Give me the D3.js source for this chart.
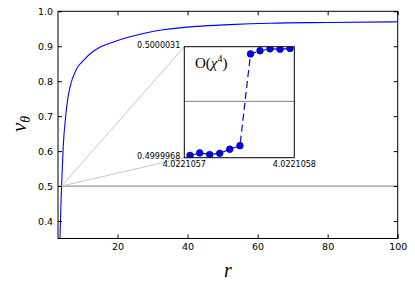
<!DOCTYPE html>
<html>
<head>
<meta charset="utf-8">
<script src="https://cdn.jsdelivr.net/npm/d3@7"></script>
<style>
  body { margin: 0; background: #fff; }
  svg text { font-family: "DejaVu Sans", sans-serif; }
</style>
</head>
<body>
<div id="chart"></div>
<script>
// main curve nu_theta(r)
var rValues = [3.57, 3.75, 4.02, 4.5, 5.2, 5.8, 6.6, 8.3, 10.5, 13.0, 15.5, 19.0, 23.6, 28.0, 33.1, 42.6, 52.0, 63.5, 80.0, 100];
var nuValues = [0.35, 0.42, 0.50, 0.615, 0.70, 0.75, 0.79, 0.835, 0.862, 0.885, 0.90, 0.913, 0.927, 0.938, 0.947, 0.957, 0.962, 0.966, 0.968, 0.970];

var xTicks = [20, 40, 60, 80, 100];
var yTicks = [0.4, 0.5, 0.6, 0.7, 0.8, 0.9, 1.0];

// zoomed inset around the jump
var insetR = [4.0221057052, 4.0221057140, 4.0221057231, 4.0221057322, 4.0221057413, 4.0221057506,
              4.0221057602, 4.0221057688, 4.0221057779, 4.0221057870, 4.0221057961];
var insetNu = [0.499996925, 0.49999707, 0.49999698, 0.49999705, 0.49999728, 0.49999748,
               0.50000269, 0.50000287, 0.50000298, 0.50000296, 0.50000300];
var insetXLabels = ["4.0221057", "4.0221058"];
var insetYLabels = ["0.4999968", "0.5000031"];
var zoomPoint = [4.02210575, 0.5];

var width = 415, height = 290;
var svg = d3.select("#chart").append("svg")
    .attr("width", width)
    .attr("height", height);

var x = d3.scaleLinear().domain([3, 100]).range([58, 397.7]);
var y = d3.scaleLinear().domain([0.35, 1.0]).range([238.5, 11.3]);

svg.append("clipPath").attr("id", "mainClip")
  .append("rect")
    .attr("x", x.range()[0]).attr("y", y.range()[1])
    .attr("width", x.range()[1] - x.range()[0])
    .attr("height", y.range()[0] - y.range()[1]);

// horizontal reference at 0.5
svg.append("line")
    .attr("x1", x.range()[0]).attr("x2", x.range()[1])
    .attr("y1", y(0.5)).attr("y2", y(0.5))
    .attr("stroke", "#808080").attr("stroke-width", 1);

var line = d3.line()
    .x(function(d, i) { return x(rValues[i]); })
    .y(function(d) { return y(d); })
    .curve(d3.curveMonotoneX);

svg.append("path")
    .datum(nuValues)
    .attr("clip-path", "url(#mainClip)")
    .attr("fill", "none")
    .attr("stroke", "#0000ff")
    .attr("stroke-width", 1.1)
    .attr("d", line);

// axes, ticks pointing inwards
function styleAxis(g) {
    g.select(".domain").remove();
    g.selectAll(".tick line").attr("stroke", "#000");
    g.selectAll(".tick text").attr("fill", "#000")
        .style("font-size", "9.5px").style("font-family", "DejaVu Sans");
}

svg.append("g")
    .attr("transform", "translate(0," + y.range()[0] + ")")
    .call(d3.axisBottom(x).tickValues(xTicks).tickSize(-4).tickPadding(4.5))
    .call(styleAxis);
svg.append("g")
    .attr("transform", "translate(0," + y.range()[1] + ")")
    .call(d3.axisTop(x).tickValues(xTicks).tickSize(-4).tickFormat(""))
    .call(styleAxis);
svg.append("g")
    .attr("transform", "translate(" + x.range()[0] + ",0)")
    .call(d3.axisLeft(y).tickValues(yTicks).tickSize(-4).tickPadding(5).tickFormat(d3.format(".1f")))
    .call(styleAxis);
svg.append("g")
    .attr("transform", "translate(" + x.range()[1] + ",0)")
    .call(d3.axisRight(y).tickValues(yTicks).tickSize(-4).tickFormat(""))
    .call(styleAxis);

svg.append("rect")
    .attr("x", x.range()[0]).attr("y", y.range()[1])
    .attr("width", x.range()[1] - x.range()[0])
    .attr("height", y.range()[0] - y.range()[1])
    .attr("fill", "none").attr("stroke", "#000").attr("stroke-width", 1);

// axis labels
svg.append("text")
    .attr("x", (x.range()[0] + x.range()[1]) / 2)
    .attr("y", 277)
    .attr("text-anchor", "middle")
    .style("font-family", "Liberation Serif")
    .style("font-style", "italic")
    .style("font-size", "20px")
    .text("r");

var yl = svg.append("text")
    .attr("transform", "translate(26," + ((y.range()[0] + y.range()[1]) / 2 - 1) + ") rotate(-90)")
    .attr("text-anchor", "middle")
    .style("font-family", "Liberation Serif")
    .style("font-style", "italic")
    .style("font-size", "21px");
yl.append("tspan").text("ν");
yl.append("tspan").attr("dy", 4).style("font-size", "14px").text("θ");

// inset
var xi = d3.scaleLinear().domain([4.0221057, 4.0221058]).range([184.3, 294.3]);
var yi = d3.scaleLinear().domain([0.4999968, 0.5000031]).range([157.7, 46.7]);

// connector lines
[yi.range()[1], yi.range()[0]].forEach(function(py) {
    svg.append("line")
        .attr("x1", x(zoomPoint[0])).attr("y1", y(zoomPoint[1]))
        .attr("x2", xi.range()[0]).attr("y2", py)
        .attr("stroke", "#c8c8c8").attr("stroke-width", 1);
});

var inset = svg.append("g");
inset.append("rect")
    .attr("x", xi.range()[0]).attr("y", yi.range()[1])
    .attr("width", xi.range()[1] - xi.range()[0])
    .attr("height", yi.range()[0] - yi.range()[1])
    .attr("fill", "#fff");

svg.append("clipPath").attr("id", "insetClip")
  .append("rect")
    .attr("x", xi.range()[0]).attr("y", yi.range()[1])
    .attr("width", xi.range()[1] - xi.range()[0])
    .attr("height", yi.range()[0] - yi.range()[1]);

inset.append("line")
    .attr("x1", xi.range()[0]).attr("x2", xi.range()[1])
    .attr("y1", yi(0.5)).attr("y2", yi(0.5))
    .attr("stroke", "#808080").attr("stroke-width", 1);

var plotArea = inset.append("g").attr("clip-path", "url(#insetClip)");

plotArea.append("path")
    .datum(insetNu)
    .attr("fill", "none")
    .attr("stroke", "#0000ff")
    .attr("stroke-width", 1.2)
    .attr("stroke-dasharray", "7,4")
    .attr("d", d3.line()
        .x(function(d, i) { return xi(insetR[i]); })
        .y(function(d) { return yi(d); }));

plotArea.selectAll(".dot")
    .data(insetNu)
    .enter().append("circle")
    .attr("class", "dot")
    .attr("cx", function(d, i) { return xi(insetR[i]); })
    .attr("cy", function(d) { return yi(d); })
    .attr("r", 3.4)
    .attr("fill", "#0000ff")
    .attr("stroke", "#000033")
    .attr("stroke-width", 0.5);

inset.append("rect")
    .attr("x", xi.range()[0]).attr("y", yi.range()[1])
    .attr("width", xi.range()[1] - xi.range()[0])
    .attr("height", yi.range()[0] - yi.range()[1])
    .attr("fill", "none").attr("stroke", "#000").attr("stroke-width", 1);

// inset tick labels at the corners
inset.selectAll(".iy")
    .data(insetYLabels)
    .enter().append("text")
    .attr("class", "iy")
    .attr("x", xi.range()[0] - 4)
    .attr("y", function(d) { return yi(+d) - 1; })
    .attr("dy", "0.32em")
    .attr("text-anchor", "end")
    .style("font-size", "8px")
    .text(function(d) { return d; });

inset.selectAll(".ix")
    .data(insetXLabels)
    .enter().append("text")
    .attr("class", "ix")
    .attr("x", function(d) { return xi(+d); })
    .attr("y", yi.range()[0] + 8.8)
    .attr("text-anchor", "middle")
    .style("font-size", "8px")
    .text(function(d) { return d; });

var ot = inset.append("text")
    .attr("x", 195)
    .attr("y", 68)
    .style("font-family", "Liberation Serif")
    .style("font-size", "15px");
ot.append("tspan").text("O");
ot.append("tspan").text("(");
ot.append("tspan").style("font-style", "italic").text("χ");
ot.append("tspan").attr("dy", -6).style("font-size", "10px").text("4");
ot.append("tspan").attr("dy", 6).text(")");
</script>
</body>
</html>
